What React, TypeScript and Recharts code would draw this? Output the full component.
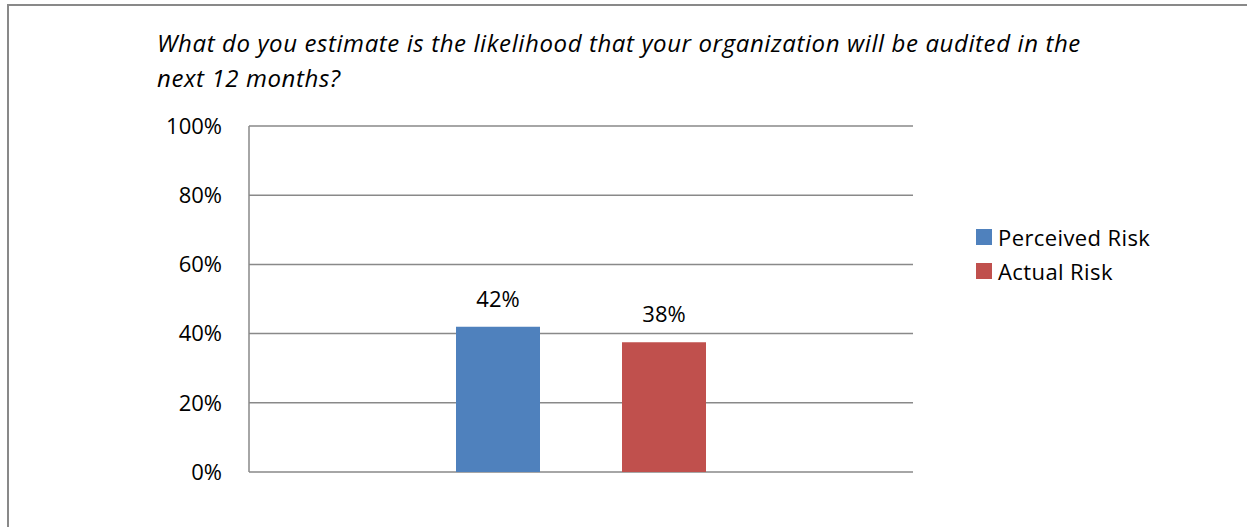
import React from 'react';
import {
  BarChart,
  Bar,
  XAxis,
  YAxis,
  CartesianGrid,
  LabelList
} from 'recharts';

const categories = [''];
const seriesNames = ['Perceived Risk', 'Actual Risk'];
const seriesColors = ['#4f81bd', '#c0504d'];
const perceivedRisk = [0.42];
const actualRisk = [0.375];
const yTicks = [0, 0.2, 0.4, 0.6, 0.8, 1];
const titleLines = [
  'What do you estimate is the likelihood that your organization will be audited in the',
  'next 12 months?'
];

const data = categories.map((name, i) => ({
  name,
  perceived: perceivedRisk[i],
  actual: actualRisk[i]
}));

const FONT = '"Open Sans", "Noto Sans", sans-serif';
const GRID = '#898989';

const pct = (v: number) => `${Math.round(v * 100)}%`;

const App: React.FC = () => {
  return (
    <div style={{ position: 'absolute', left: 0, top: 0, width: 1247, height: 527, overflow: 'hidden', background: '#fff' }}>
      <div
        style={{
          position: 'absolute',
          left: 7,
          top: 4,
          width: 1300,
          height: 600,
          borderTop: `2px solid ${GRID}`,
          borderLeft: `2px solid ${GRID}`
        }}
      />
      <div
        style={{
          position: 'absolute',
          left: 157,
          top: 25,
          width: 1050,
          fontFamily: FONT,
          fontStyle: 'italic',
          fontSize: 24,
          letterSpacing: 0.6,
          lineHeight: '35px',
          color: '#000',
          whiteSpace: 'nowrap'
        }}
      >
        {titleLines.map((l) => (
          <div key={l}>{l}</div>
        ))}
      </div>

      {/* legend */}
      <div style={{ position: 'absolute', left: 976, top: 220, fontFamily: FONT, fontSize: 22, letterSpacing: 0.4, color: '#000' }}>
        {seriesNames.map((n, i) => (
          <div key={n} style={{ display: 'flex', alignItems: 'center', height: 34 }}>
            <span style={{ width: 16, height: 16, background: seriesColors[i], marginRight: 6 }} />
            <span>{n}</span>
          </div>
        ))}
      </div>

      <div style={{ position: 'absolute', left: 0, top: 0 }}>
        <BarChart
          width={1247}
          height={527}
          data={data}
          margin={{ top: 126, right: 334, bottom: 55, left: 0 }}
          barSize={84}
          barGap={82}
        >
          <CartesianGrid vertical={false} stroke={GRID} strokeWidth={1.5} />
          <XAxis dataKey="name" tick={false} tickLine={false} axisLine={{ stroke: GRID, strokeWidth: 1.5 }} height={0} />
          <YAxis
            width={249}
            domain={[0, 1]}
            ticks={yTicks}
            tickFormatter={pct}
            tickLine={false}
            tickSize={0}
            tickMargin={27}
            axisLine={{ stroke: GRID, strokeWidth: 1.5 }}
            tick={{ fill: '#000', fontSize: 22, fontFamily: FONT }}
            interval={0}
          />
          <Bar dataKey="perceived" name={seriesNames[0]} fill={seriesColors[0]} isAnimationActive={false}>
            <LabelList dataKey="perceived" position="top" offset={20} formatter={pct} fill="#000" fontSize={22} fontFamily={FONT} />
          </Bar>
          <Bar dataKey="actual" name={seriesNames[1]} fill={seriesColors[1]} isAnimationActive={false}>
            <LabelList dataKey="actual" position="top" offset={20} formatter={pct} fill="#000" fontSize={22} fontFamily={FONT} />
          </Bar>
        </BarChart>
      </div>
    </div>
  );
};

export default App;
